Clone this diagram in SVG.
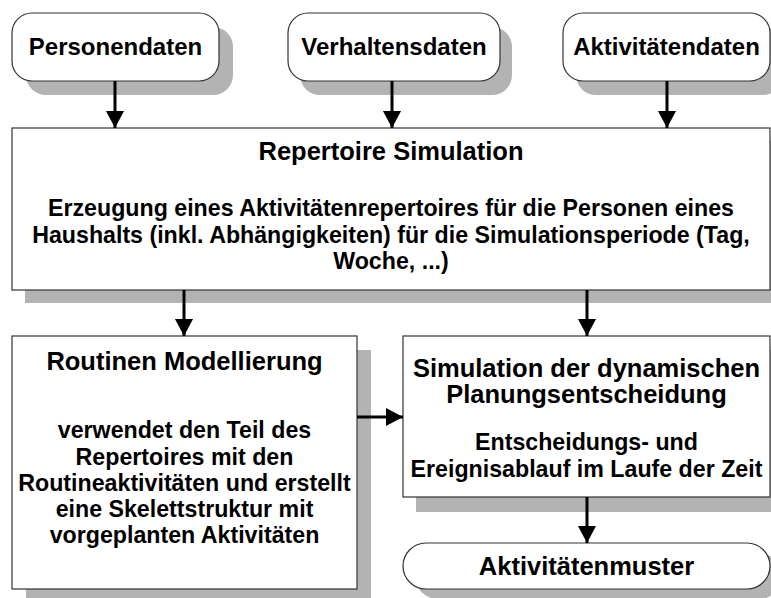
<svg xmlns="http://www.w3.org/2000/svg" width="771" height="598" viewBox="0 0 771 598">
  <style>
    .shadow { fill: #b3b3b3; stroke: none; }
    .box { fill: #ffffff; stroke: #333333; stroke-width: 1.2; }
    .title { font-family: "Liberation Sans", Arial, sans-serif; font-weight: bold; font-size: 25.5px; fill: #000; text-anchor: middle; }
    .src { font-family: "Liberation Sans", Arial, sans-serif; font-weight: bold; font-size: 24px; fill: #000; text-anchor: middle; }
    .body { font-family: "Liberation Sans", Arial, sans-serif; font-weight: bold; font-size: 23.2px; fill: #000; text-anchor: middle; }
    .conn { stroke: #000; stroke-width: 3; fill: none; }
  </style>
  <defs>
    <marker id="arrow" markerUnits="userSpaceOnUse" markerWidth="18" markerHeight="18" refX="17" refY="9" orient="auto">
      <path d="M0,0 L17,9 L0,18 Z" fill="#000"/>
    </marker>
  </defs>

  <rect width="771" height="598" fill="#ffffff"/>

  <!-- input data nodes -->
  <g id="personendaten">
    <rect class="shadow" x="26" y="27" width="207" height="68" rx="20"/>
    <rect class="box" x="12" y="13" width="207" height="68" rx="20"/>
    <text class="src" x="115.5" y="55">Personendaten</text>
  </g>
  <g id="verhaltensdaten">
    <rect class="shadow" x="300" y="27" width="212" height="68" rx="20"/>
    <rect class="box" x="288" y="13" width="212" height="68" rx="20"/>
    <text class="src" x="394" y="55">Verhaltensdaten</text>
  </g>
  <g id="aktivitaetendaten">
    <rect class="shadow" x="576" y="27" width="207" height="68" rx="20"/>
    <rect class="box" x="563" y="13" width="207" height="68" rx="20"/>
    <text class="src" x="666.5" y="55">Aktivitätendaten</text>
  </g>

  <!-- repertoire simulation -->
  <g id="repertoire">
    <rect class="shadow" x="25" y="141" width="760" height="162"/>
    <rect class="box" x="12" y="128" width="758" height="162"/>
    <text class="title" x="391" y="160">Repertoire Simulation</text>
    <text class="body" x="391" y="216">Erzeugung eines Aktivitätenrepertoires für die Personen eines</text>
    <text class="body" x="391" y="243">Haushalts (inkl. Abhängigkeiten) für die Simulationsperiode (Tag,</text>
    <text class="body" x="391" y="269">Woche, ...)</text>
  </g>

  <!-- routine modelling -->
  <g id="routinen">
    <rect class="shadow" x="26" y="350" width="345" height="253"/>
    <rect class="box" x="12" y="336" width="345" height="253"/>
    <text class="title" x="184.5" y="370">Routinen Modellierung</text>
    <text class="body" x="184.5" y="438">verwendet den Teil des</text>
    <text class="body" x="184.5" y="465">Repertoires mit den</text>
    <text class="body" x="184.5" y="491">Routineaktivitäten und erstellt</text>
    <text class="body" x="184.5" y="517">eine Skelettstruktur mit</text>
    <text class="body" x="184.5" y="543">vorgeplanten Aktivitäten</text>
  </g>

  <!-- dynamic planning decision -->
  <g id="planung">
    <rect class="shadow" x="416" y="350" width="367" height="162"/>
    <rect class="box" x="403" y="336" width="367" height="161"/>
    <text class="title" x="586.5" y="377">Simulation der dynamischen</text>
    <text class="title" x="586.5" y="403">Planungsentscheidung</text>
    <text class="body" x="586.5" y="450">Entscheidungs- und</text>
    <text class="body" x="586.5" y="477">Ereignisablauf im Laufe der Zeit</text>
  </g>

  <!-- result -->
  <g id="aktivitaetenmuster">
    <rect class="shadow" x="415" y="553" width="367" height="46" rx="23"/>
    <rect class="box" x="403" y="543" width="367" height="46" rx="23"/>
    <text class="title" x="586.5" y="575">Aktivitätenmuster</text>
  </g>

  <!-- connectors -->
  <g id="connectors">
    <line class="conn" x1="115" y1="81" x2="115" y2="128" marker-end="url(#arrow)"/>
    <line class="conn" x1="392" y1="81" x2="392" y2="128" marker-end="url(#arrow)"/>
    <line class="conn" x1="667" y1="81" x2="667" y2="128" marker-end="url(#arrow)"/>
    <line class="conn" x1="184" y1="290" x2="184" y2="336" marker-end="url(#arrow)"/>
    <line class="conn" x1="587" y1="290" x2="587" y2="336" marker-end="url(#arrow)"/>
    <line class="conn" x1="357" y1="417" x2="403" y2="417" marker-end="url(#arrow)"/>
    <line class="conn" x1="587" y1="497" x2="587" y2="543" marker-end="url(#arrow)"/>
  </g>
</svg>
